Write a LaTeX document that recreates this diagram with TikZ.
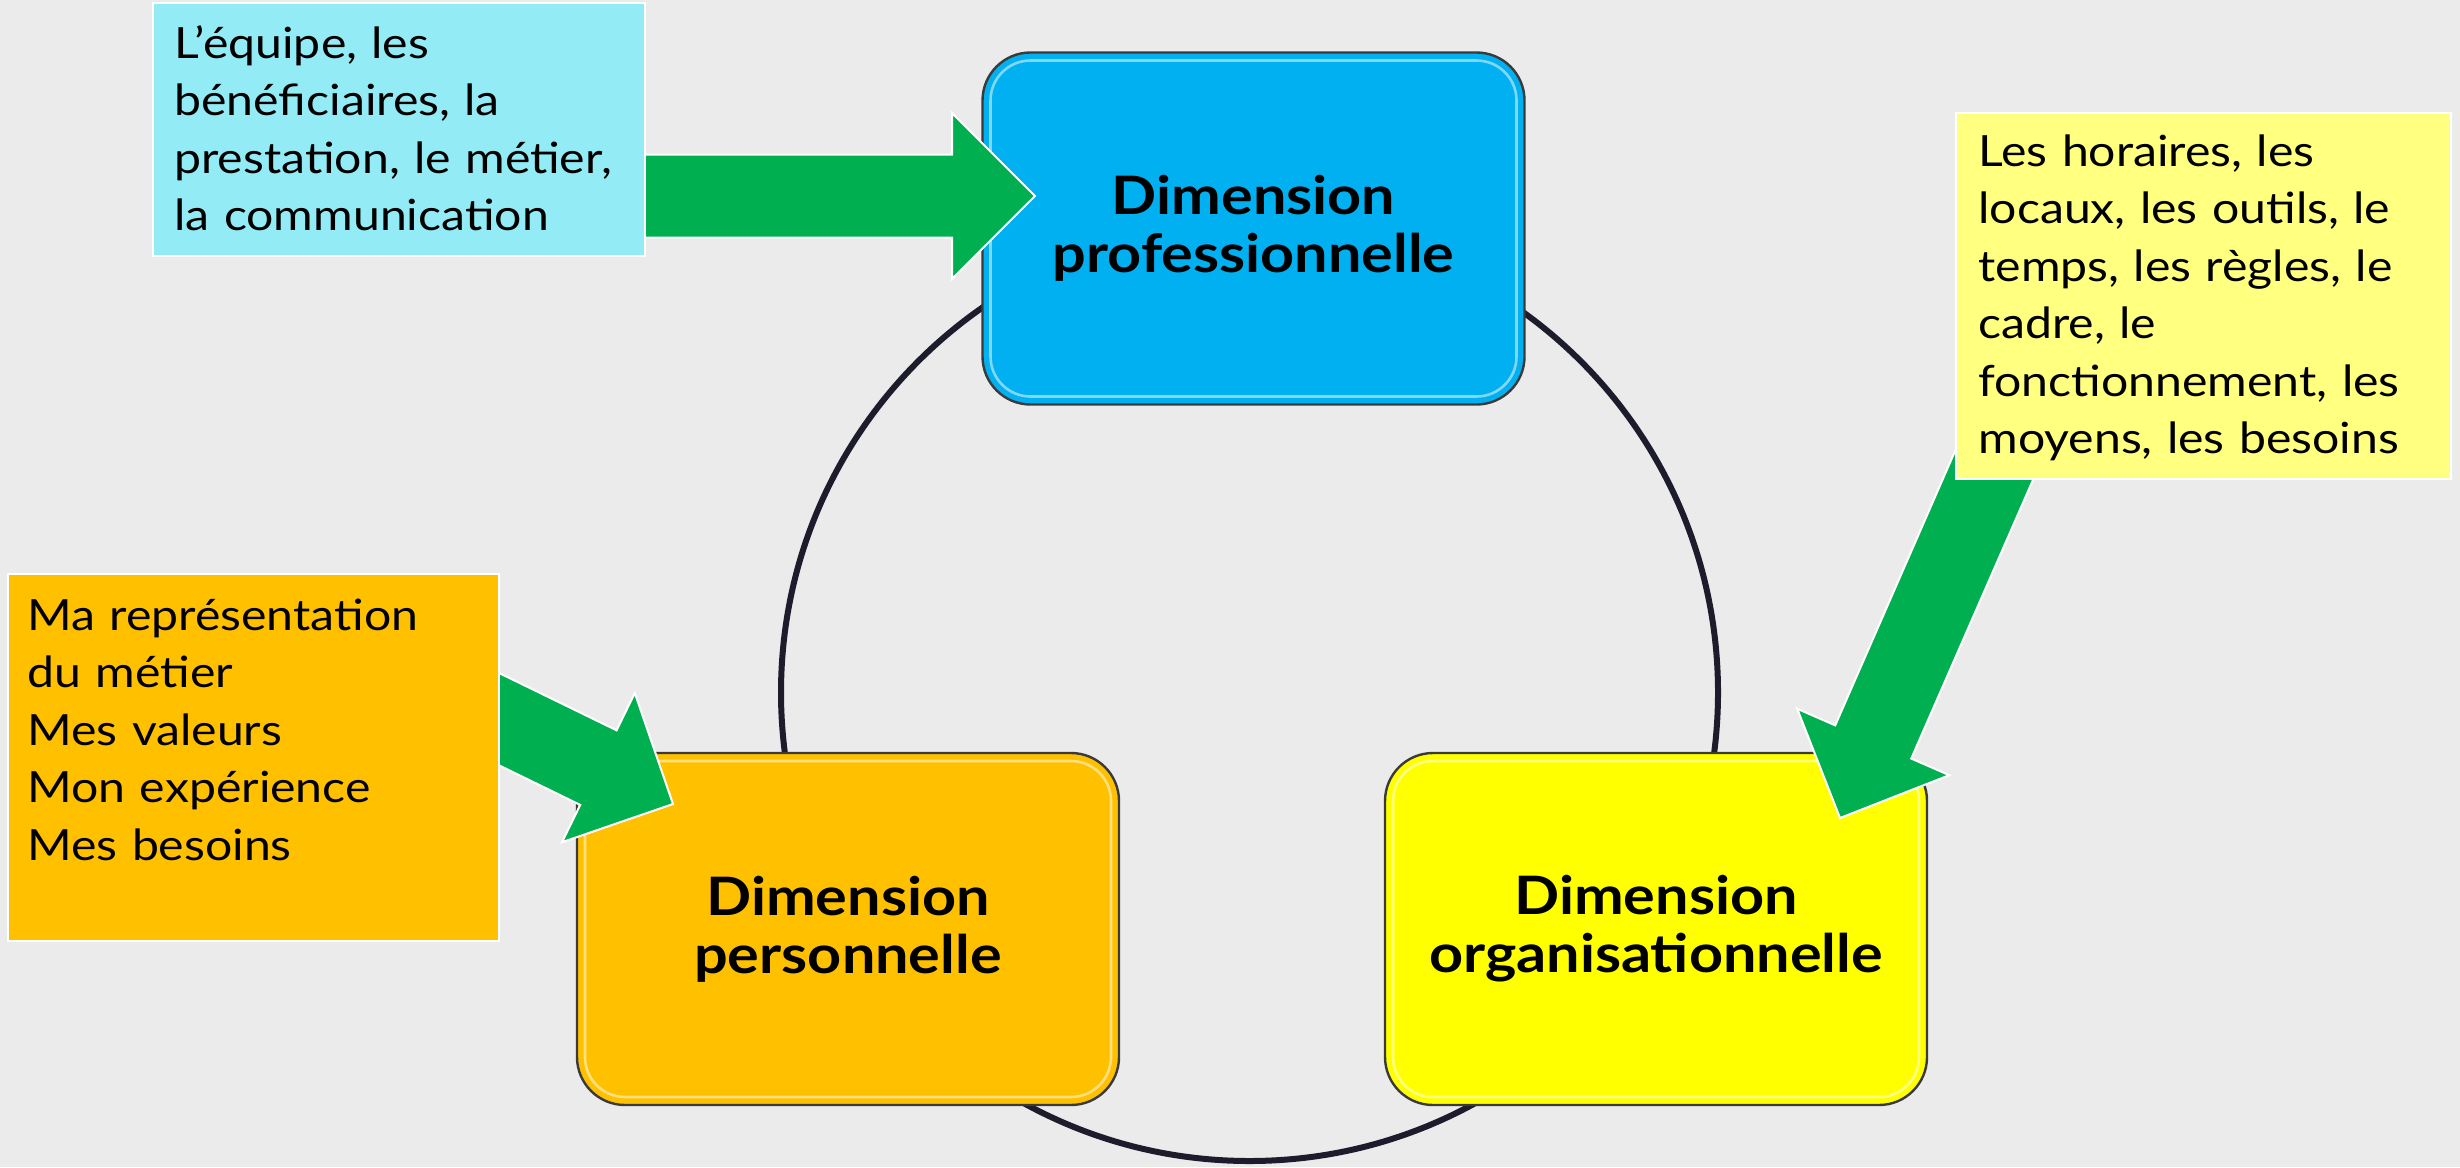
\documentclass[tikz,border=0pt]{standalone}
\usepackage{fontspec}
\setmainfont{Lato}[FakeStretch=1.12]
\definecolor{bgcol}{HTML}{EBEBEB}
\definecolor{ringcol}{HTML}{1C1C2C}
\definecolor{arrowgreen}{HTML}{00AF50}
\definecolor{problue}{HTML}{00B0F0}
\definecolor{orgyellow}{HTML}{FFFF00}
\definecolor{persorange}{HTML}{FFC000}
\definecolor{cyanbox}{HTML}{93EBF5}
\definecolor{lightyellow}{HTML}{FFFF80}
\definecolor{boxedge}{HTML}{3A3A3A}
\newcommand\greenblockarrow[3]{%
  \begin{scope}[shift={#1}, rotate=#2]
    \path[blockarrow] (0,0) -- (-83,-83) -- (-83,-41.5) -- (-#3,-41.5) -- (-#3,41.5) -- (-83,41.5) -- (-83,83) -- cycle;
  \end{scope}}
\begin{document}
\begin{tikzpicture}[x=0.5pt,y=-0.5pt,
  dimbox/.style={draw=boxedge, line width=1.2pt, rounded corners=24pt, minimum width=271pt, minimum height=176pt, inner sep=0pt, align=center, font=\fontsize{26.5}{29}\selectfont\bfseries},
  bevel/.style={draw=white, draw opacity=0.5, line width=1.3pt, rounded corners=20pt, minimum width=263pt, minimum height=168pt, inner sep=0pt},
  infobox/.style={draw=white, line width=1pt, inner sep=0pt, minimum width=246pt},
  infotext/.style={anchor=base west, inner sep=0pt, text width=240pt, align=left, font=\fontsize{21.5}{28.75}\selectfont},
  blockarrow/.style={fill=arrowgreen, draw=white, line width=1pt, line join=miter},
  ring/.style={draw=ringcol, line width=3pt}]
\useasboundingbox (0,0) rectangle (2460,1167);
\fill[bgcol] (0,0) rectangle (2460,1167);
% ring linking the three dimensions
\draw[ring] (1249.5,692.5) circle[radius=234.25pt];
% dimension boxes
\node[dimbox, fill=problue] (pro) at (1253.5,228.5) {Dimension\\professionnelle};
\node[dimbox, fill=persorange] (pers) at (848,929) {Dimension\\personnelle};
\node[dimbox, fill=orgyellow] (org) at (1656,929) {Dimension\\organisationnelle};
\node[bevel] (probevel) at (pro.center) {};
\node[bevel] (persbevel) at (pers.center) {};
\node[bevel] (orgbevel) at (org.center) {};
% green block arrows
\greenblockarrow{(1035,196)}{0}{420}
\greenblockarrow{(1840,818)}{246.4}{450}
\greenblockarrow{(673,804)}{-26}{260}
% info boxes
\node[infobox, fill=cyanbox, minimum height=126.5pt] (cyanrect) at (398.5,129.5) {};
\node[infobox, fill=lightyellow, minimum height=183pt, minimum width=247.5pt] (yelrect) at (2203.5,296) {};
\node[infobox, fill=persorange, minimum height=183.5pt, minimum width=245.5pt] (orarect) at (253.5,757.5) {};
\node[infotext] (cyantext) at (174,58) {L’équipe, les\\bénéficiaires, la\\prestation, le métier,\\la communication};
\node[infotext] (yeltext) at (1978,166) {Les horaires, les\\locaux, les outils, le\\temps, les règles, le\\cadre, le\\fonctionnement, les\\moyens, les besoins};
\node[infotext] (oratext) at (27,630) {Ma représentation\\du métier\\Mes valeurs\\Mon expérience\\Mes besoins};
\end{tikzpicture}
\end{document}
